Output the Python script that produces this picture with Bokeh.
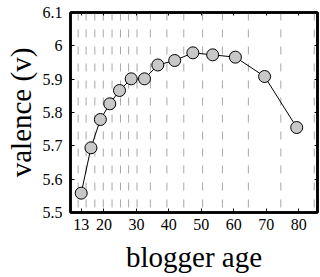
from bokeh.plotting import figure
from bokeh.models import Range1d, FixedTicker, LinearAxis, CustomJSTickFormatter
from bokeh.embed import file_html
from bokeh.resources import INLINE

# data
ages = [13, 16, 18.9, 21.8, 24.8, 28.4, 32.5, 36.6, 41.8, 47.4, 53.5, 60.5, 69.5, 79.4]
valence = [5.558, 5.694, 5.779, 5.826, 5.866, 5.901, 5.901, 5.9425, 5.956, 5.979, 5.973, 5.966, 5.908, 5.755]
grid_x = [12.05, 14.5, 17.2, 19.8, 22.5, 25.1, 27.6, 30.2, 34.3, 39.4, 44.6, 50.4, 56.5, 64.5, 74.5, 84.8]
x_ticks = [13, 20, 30, 40, 50, 60, 70, 80]
y_ticks = [5.5, 5.6, 5.7, 5.8, 5.9, 6.0, 6.1]

FONT = "Liberation Serif"

p = figure(width=320, height=277, output_backend="svg", toolbar_location=None,
           x_range=Range1d(9.7, 85.8), y_range=Range1d(5.5, 6.1),
           min_border_left=70, min_border_right=3, min_border_top=12, min_border_bottom=65)
p.background_fill_color = "white"
p.border_fill_color = "white"
p.xgrid.visible = False
p.ygrid.visible = False
p.outline_line_color = "black"
p.outline_line_width = 2.5

# dashed vertical grid
p.segment(x0=grid_x, x1=grid_x, y0=[6.1] * len(grid_x), y1=[5.5] * len(grid_x),
          line_color="#a8a8a8", line_width=1, line_dash="8 9")

p.line(ages, valence, line_color="black", line_width=1)
p.scatter(ages, valence, size=12, fill_color="#c8c8c8", line_color="black", line_width=1)

fmt = CustomJSTickFormatter(code="return String(Math.round(tick*10)/10);")
blank = CustomJSTickFormatter(code="return '';")

xa = p.xaxis[0]
xa.ticker = FixedTicker(ticks=x_ticks)
xa.axis_label = "blogger age"
ya = p.yaxis[0]
ya.ticker = FixedTicker(ticks=y_ticks)
ya.formatter = fmt
ya.axis_label = "valence (v)"

for ax in (xa, ya):
    ax.axis_line_color = "black"
    ax.axis_line_width = 2.5
    ax.major_tick_in = 4
    ax.major_tick_out = 0
    ax.minor_tick_line_color = None
    ax.major_tick_line_color = "black"
    ax.major_label_text_font = FONT
    ax.major_label_text_font_size = "16px"
    ax.major_label_text_color = "black"
    ax.axis_label_text_font = FONT
    ax.axis_label_text_font_size = "29px"
    ax.axis_label_text_font_style = "normal"
    ax.axis_label_text_color = "black"
xa.major_label_standoff = 6
xa.axis_label_standoff = 8
ya.major_label_standoff = 8
ya.axis_label_standoff = 3

top = LinearAxis(ticker=FixedTicker(ticks=x_ticks), formatter=blank,
                 major_tick_in=3, major_tick_out=0, minor_tick_line_color=None,
                 axis_line_width=2.5, major_label_standoff=0)
right = LinearAxis(ticker=FixedTicker(ticks=y_ticks), formatter=blank,
                   major_tick_in=3, major_tick_out=0, minor_tick_line_color=None,
                   axis_line_width=2.5, major_label_standoff=0)
p.add_layout(top, "above")
p.add_layout(right, "right")

open("out.html", "w").write(file_html(p, INLINE))
